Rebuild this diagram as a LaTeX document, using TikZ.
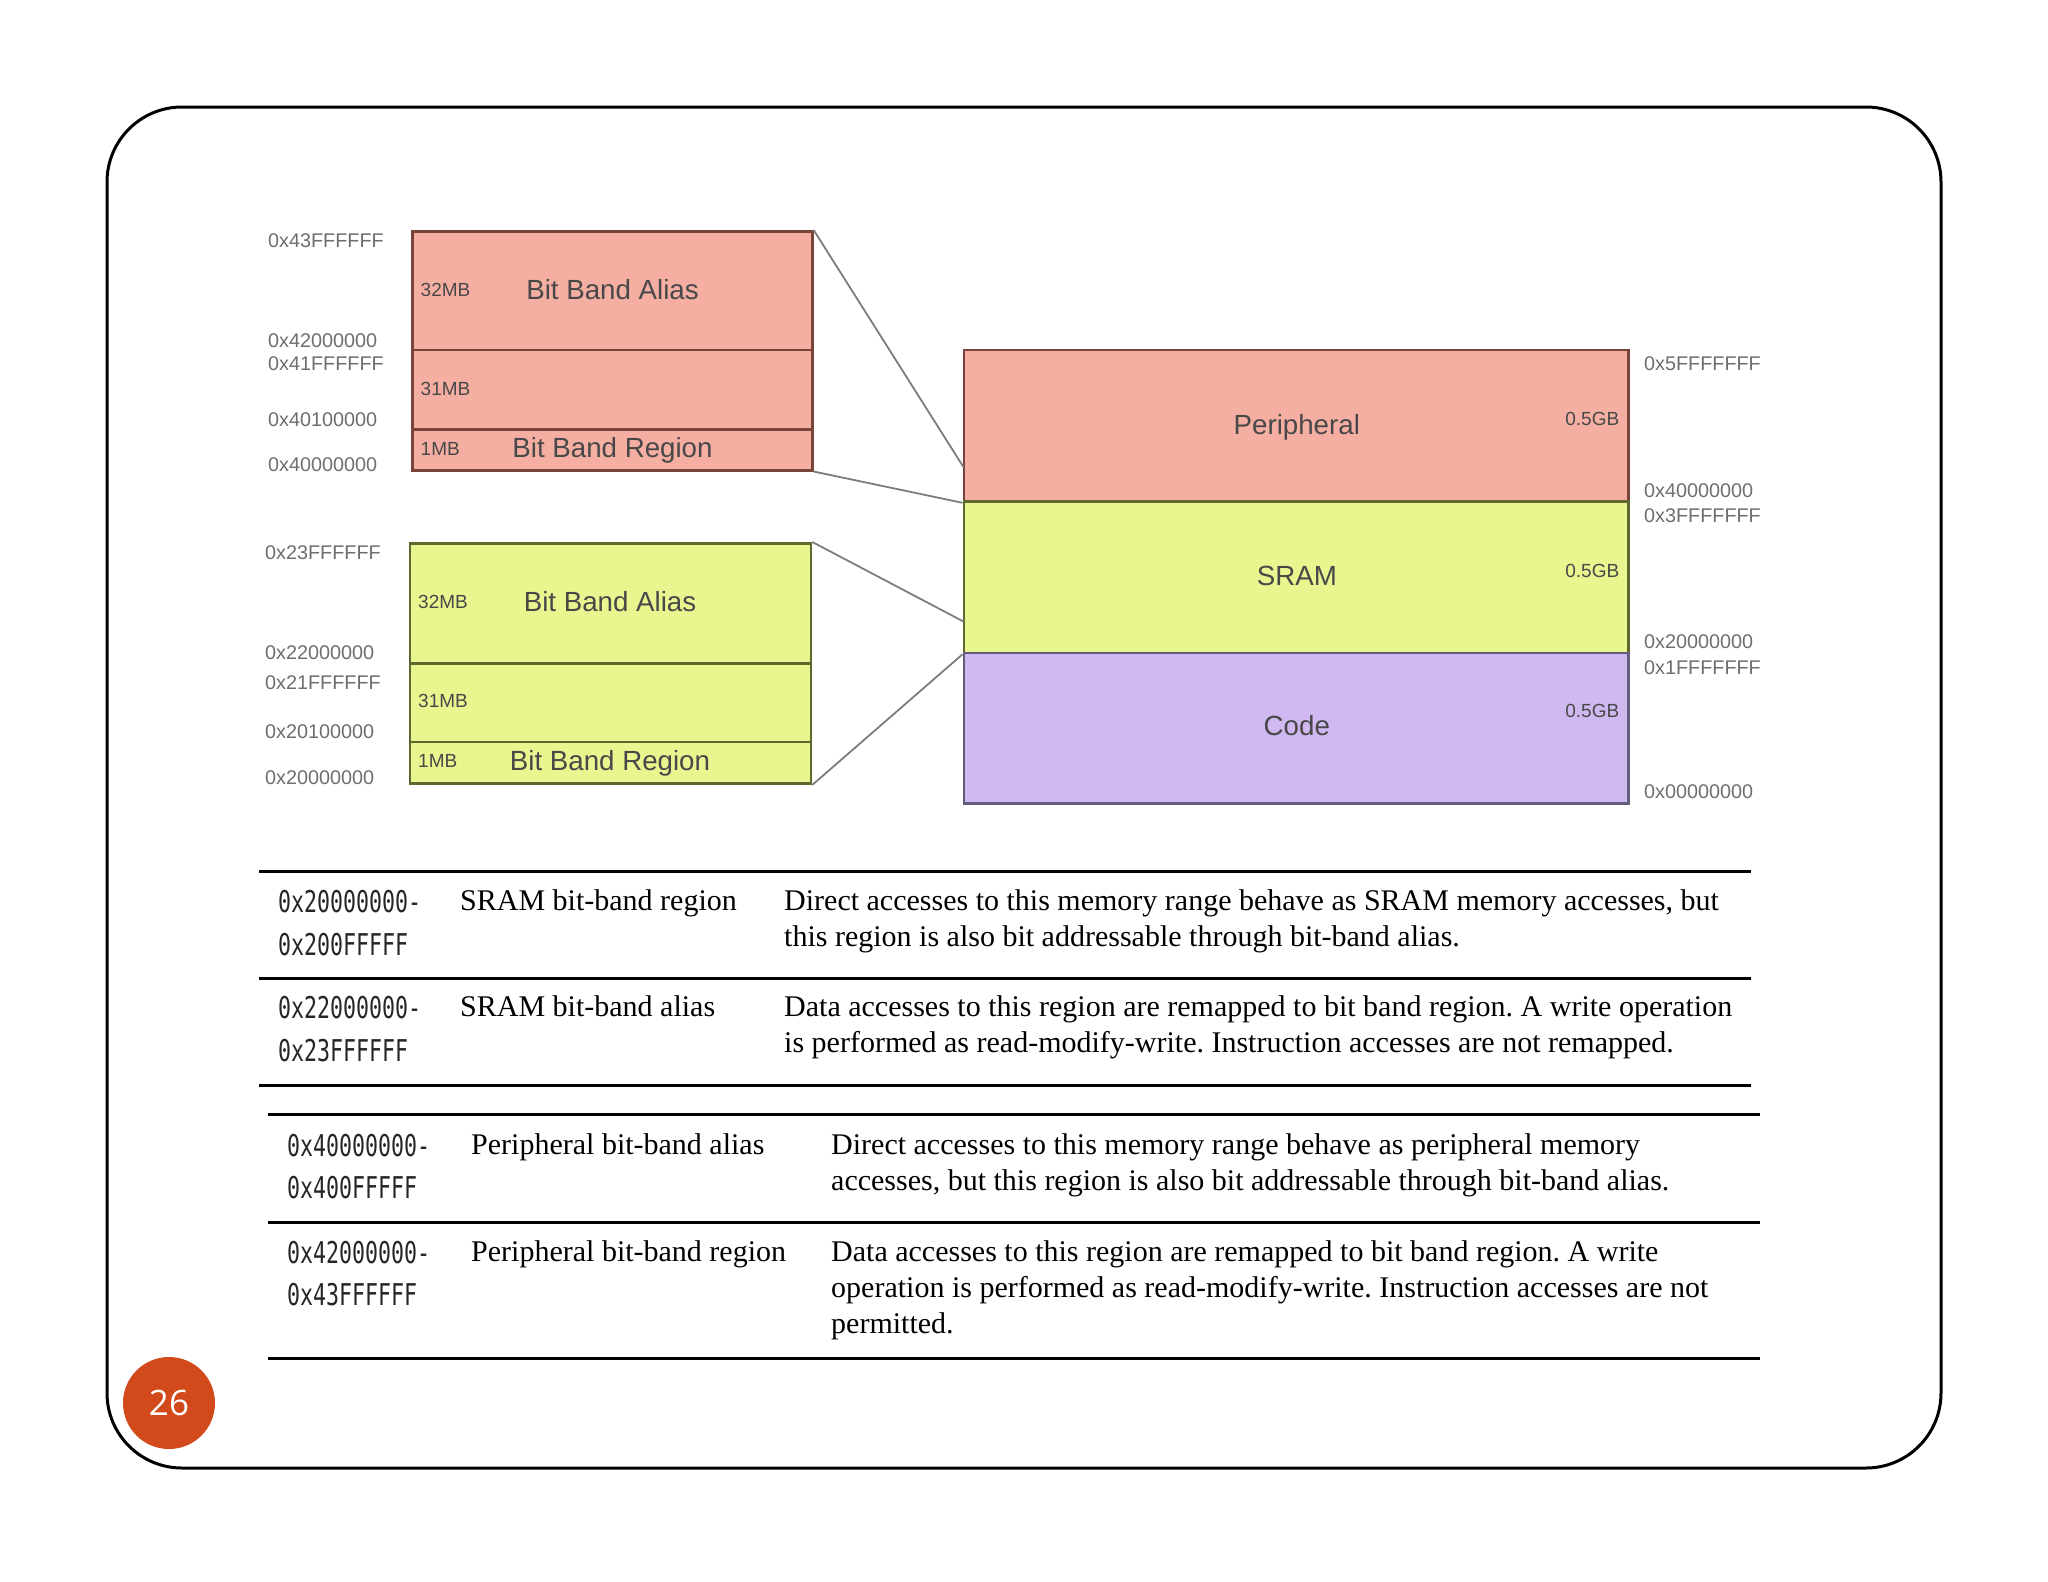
\documentclass[tikz,border=0pt]{standalone}
\usepackage{fontspec}
\setmainfont{Liberation Serif}
\newfontfamily\diagf{Liberation Sans}
\newfontfamily\hexf[FakeStretch=0.72]{DejaVu Sans Mono}
\newfontfamily\numf{Open Sans}
\usetikzlibrary{fit}
\frenchspacing
\definecolor{pinkf}{RGB}{245,174,162}
\definecolor{pinkd}{RGB}{120,68,60}
\definecolor{yelf}{RGB}{233,245,142}
\definecolor{yeld}{RGB}{95,105,45}
\definecolor{purf}{RGB}{207,185,240}
\definecolor{purd}{RGB}{100,92,125}
\definecolor{lblgray}{RGB}{110,110,110}
\definecolor{txtgray}{RGB}{72,72,72}
\definecolor{conngray}{RGB}{125,125,125}
\definecolor{orng}{RGB}{210,74,27}
\tikzset{
  band/.style={inner sep=0pt, draw=#1, line width=2.6pt},
  conn/.style={draw=conngray, line width=1.8pt},
  hexlbl/.style={anchor=base west, yshift=-7pt, inner sep=0pt, text=lblgray, font=\diagf\fontsize{19.8}{19.8}\selectfont},
  sizelbl/.style={anchor=base west, yshift=-6.8pt, inner sep=0pt, text=txtgray, font=\diagf\fontsize{19}{19}\selectfont},
  gblbl/.style={anchor=base east, yshift=-6.8pt, inner sep=0pt, text=txtgray, font=\diagf\fontsize{19}{19}\selectfont},
  biglbl/.style={anchor=base, yshift=-9.8pt, inner sep=0pt, text=txtgray, font=\diagf\fontsize{27.7}{27.7}\selectfont},
  hexcell/.style={anchor=base west, yshift=-11pt, inner sep=0pt, text=black!85, font=\hexf\fontsize{30}{30}\selectfont},
  txtcell/.style={anchor=base west, yshift=-9.9pt, inner sep=0pt, font=\fontsize{30}{30}\selectfont},
  rule/.style={line width=3pt, black}
}
\begin{document}
\begin{tikzpicture}[x=1pt,y=-1pt]
\useasboundingbox (0,0) rectangle (2048,1582);
\fill[white] (0,0) rectangle (2048,1582);
% frame
\draw[line width=3pt, rounded corners=75pt] (107,107) rectangle (1941,1468);

% upper (peripheral) bit band group
\node[band=pinkd, fill=pinkf, fit={(412.7,231.2) (812.3,350)}] (pa) {};
\node[band=pinkd, fill=pinkf, fit={(412.7,350) (812.3,429.7)}] (pm) {};
\node[band=pinkd, fill=pinkf, fit={(412.7,429.7) (812.3,470.2)}] (pr) {};
% lower (SRAM) bit band group
\node[band=yeld, fill=yelf, fit={(410,543.3) (811,663.4)}] (sa) {};
\node[band=yeld, fill=yelf, fit={(410,663.4) (811,741.8)}] (sm) {};
\node[band=yeld, fill=yelf, fit={(410,741.8) (811,783.6)}] (sr) {};
% memory map
\node[band=pinkd, fill=pinkf, fit={(963.8,350) (1628.6,501.5)}] (per) {};
\node[band=yeld, fill=yelf, fit={(963.8,501.5) (1628.6,653)}] (sram) {};
\node[band=purd, fill=purf, fit={(963.8,653) (1628.6,803.2)}] (code) {};

% connectors
\coordinate (c1) at (963.8,467.6);
\coordinate (c3) at (963.8,621.7);
\draw[conn] (pa.north east) -- (c1);
\draw[conn] (pr.south east) -- (per.south west);
\draw[conn] (sa.north east) -- (c3);
\draw[conn] (sr.south east) -- (sram.south west);

% labels inside upper group
\node[sizelbl] (l32a) at (420.5,290) {32MB};
\node[biglbl] (lbaa) at (612.5,290) {Bit Band Alias};
\node[sizelbl] (l31a) at (420.5,389) {31MB};
\node[sizelbl] (l1a) at (420.5,449) {1MB};
\node[biglbl] (lbra) at (612.5,448) {Bit Band Region};
% labels inside lower group
\node[sizelbl] (l32b) at (418,602) {32MB};
\node[biglbl] (lbab) at (610,602) {Bit Band Alias};
\node[sizelbl] (l31b) at (418,701) {31MB};
\node[sizelbl] (l1b) at (418,761) {1MB};
\node[biglbl] (lbrb) at (610,761) {Bit Band Region};
% memory map labels
\node[biglbl] (lper) at (1296.8,424.5) {Peripheral};
\node[gblbl] (gper) at (1619.4,419) {0.5GB};
\node[biglbl] (lsram) at (1296.8,576) {SRAM};
\node[gblbl] (gsram) at (1619.4,570.7) {0.5GB};
\node[biglbl] (lcode) at (1296.8,726) {Code};
\node[gblbl] (gcode) at (1619.4,710.5) {0.5GB};

% left address labels
\node[hexlbl] (a1) at (268,240) {0x43FFFFFF};
\node[hexlbl] (a2) at (268,340) {0x42000000};
\node[hexlbl] (a3) at (268,363) {0x41FFFFFF};
\node[hexlbl] (a4) at (268,419) {0x40100000};
\node[hexlbl] (a5) at (268,464) {0x40000000};
\node[hexlbl] (b1) at (265,552) {0x23FFFFFF};
\node[hexlbl] (b2) at (265,652) {0x22000000};
\node[hexlbl] (b3) at (265,682) {0x21FFFFFF};
\node[hexlbl] (b4) at (265,731) {0x20100000};
\node[hexlbl] (b5) at (265,777) {0x20000000};
% right address labels
\node[hexlbl] (r1) at (1644,363) {0x5FFFFFFF};
\node[hexlbl] (r2) at (1644,490) {0x40000000};
\node[hexlbl] (r3) at (1644,515) {0x3FFFFFFF};
\node[hexlbl] (r4) at (1644,641) {0x20000000};
\node[hexlbl] (r5) at (1644,667) {0x1FFFFFFF};
\node[hexlbl] (r6) at (1644,791) {0x00000000};

% table 1
\draw[rule] (259,871) -- (1751,871);
\draw[rule] (259,978) -- (1751,978);
\draw[rule] (259,1085) -- (1751,1085);
\node[hexcell] (t1h1) at (278,901) {0x20000000-};
\node[hexcell] (t1h2) at (278,944) {0x200FFFFF};
\node[txtcell] (t1n1) at (460,901) {SRAM bit-band region};
\node[txtcell] (t1d1) at (784,901) {Direct accesses to this memory range behave as SRAM memory accesses, but};
\node[txtcell] (t1d2) at (784,937) {this region is also bit addressable through bit-band alias.};
\node[hexcell] (t1h3) at (278,1007) {0x22000000-};
\node[hexcell] (t1h4) at (278,1050) {0x23FFFFFF};
\node[txtcell] (t1n2) at (460,1007) {SRAM bit-band alias};
\node[txtcell] (t1d3) at (784,1007) {Data accesses to this region are remapped to bit band region. A write operation};
\node[txtcell] (t1d4) at (784,1043) {is performed as read-modify-write. Instruction accesses are not remapped.};

% table 2
\draw[rule] (268,1114) -- (1760,1114);
\draw[rule] (268,1222) -- (1760,1222);
\draw[rule] (268,1358) -- (1760,1358);
\node[hexcell] (t2h1) at (287,1145) {0x40000000-};
\node[hexcell] (t2h2) at (287,1187) {0x400FFFFF};
\node[txtcell] (t2n1) at (471,1145) {Peripheral bit-band alias};
\node[txtcell] (t2d1) at (831,1145) {Direct accesses to this memory range behave as peripheral memory};
\node[txtcell] (t2d2) at (831,1181) {accesses, but this region is also bit addressable through bit-band alias.};
\node[hexcell] (t2h3) at (287,1252) {0x42000000-};
\node[hexcell] (t2h4) at (287,1294) {0x43FFFFFF};
\node[txtcell] (t2n2) at (471,1252) {Peripheral bit-band region};
\node[txtcell] (t2d3) at (831,1252) {Data accesses to this region are remapped to bit band region. A write};
\node[txtcell] (t2d4) at (831,1288) {operation is performed as read-modify-write. Instruction accesses are not};
\node[txtcell] (t2d5) at (831,1324) {permitted.};

% page number
\node[circle, fill=orng, minimum size=92pt, inner sep=0pt] (pg) at (169,1403) {};
\node[anchor=base, yshift=-12.5pt, inner sep=0pt, text=white, font=\numf\fontsize{35}{35}\selectfont] (pgn) at (169,1403) {26};
\end{tikzpicture}
\end{document}
